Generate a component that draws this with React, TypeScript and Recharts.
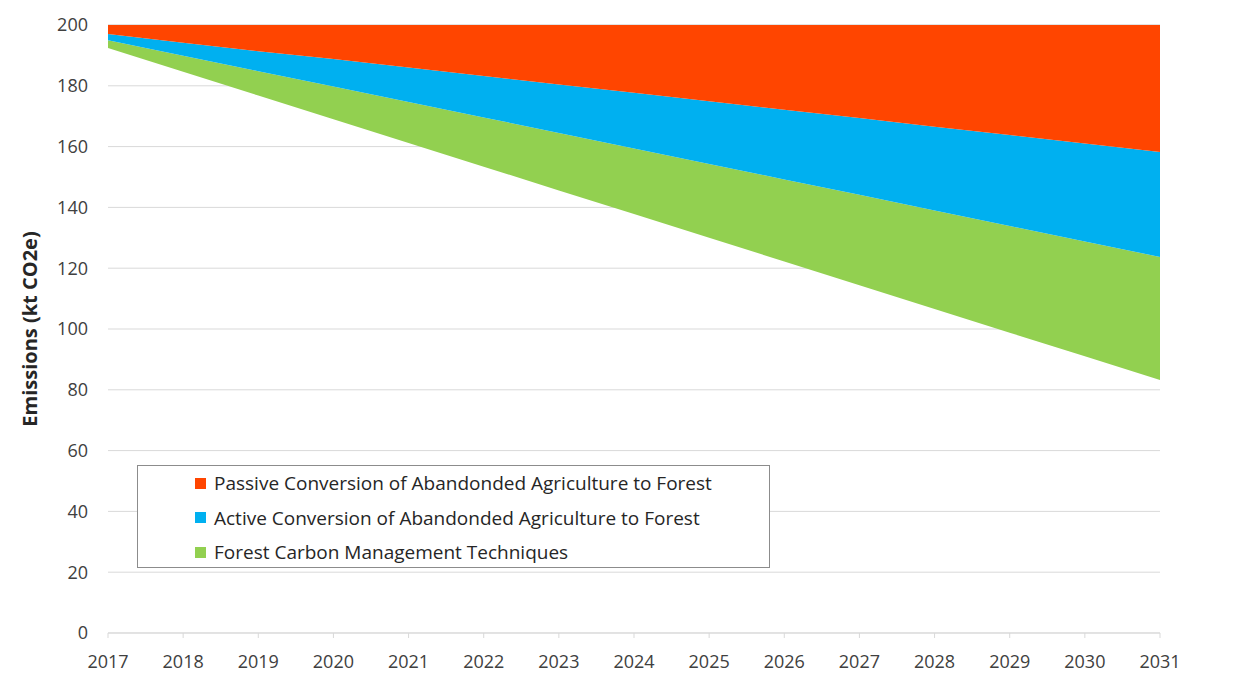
import React from 'react';
import { AreaChart, Area, XAxis, YAxis, CartesianGrid } from 'recharts';

const years = [2017, 2018, 2019, 2020, 2021, 2022, 2023, 2024, 2025, 2026, 2027, 2028, 2029, 2030, 2031];

// invisible floor under the stack (lower edge of the green band)
const baseline = [192.4, 184.6, 176.8, 169.0, 161.2, 153.4, 145.6, 137.8, 130.0, 122.2, 114.4, 106.6, 98.8, 91.0, 83.2];
const forestMgmt = [2.6, 5.3, 8.0, 10.8, 13.5, 16.2, 18.9, 21.6, 24.3, 27.0, 29.8, 32.4, 35.1, 37.8, 40.5];
const activeConv = [2.0, 4.3, 6.6, 9.0, 11.3, 13.6, 15.9, 18.3, 20.6, 22.9, 25.2, 27.5, 29.9, 32.2, 34.5];
const passiveConv = [3.0, 5.8, 8.6, 11.2, 14.0, 16.8, 19.6, 22.3, 25.1, 27.9, 30.6, 33.5, 36.2, 39.0, 41.8];

const yTicks = [0, 20, 40, 60, 80, 100, 120, 140, 160, 180, 200];

const series = [
  { key: 'passive', name: 'Passive Conversion of Abandonded Agriculture to Forest', color: '#FF4500' },
  { key: 'active', name: 'Active Conversion of Abandonded Agriculture to Forest', color: '#00B0F0' },
  { key: 'forest', name: 'Forest Carbon Management Techniques', color: '#92D050' },
];

const data = years.map((year, i) => ({
  year,
  base: baseline[i],
  forest: forestMgmt[i],
  active: activeConv[i],
  passive: passiveConv[i],
}));

const font = '"Open Sans", sans-serif';

function LegendBox() {
  return (
    <div
      style={{
        position: 'absolute',
        left: 129,
        top: 457,
        width: 633,
        height: 103,
        border: '1px solid #8c8c8c',
        background: '#fff',
        boxSizing: 'border-box',
        paddingTop: 0,
        paddingLeft: 57,
        fontFamily: font,
        fontSize: 19,
        color: '#262626',
      }}
    >
      {series.map((s) => (
        <div key={s.key} style={{ display: 'flex', alignItems: 'center', height: 34.5 }}>
          <span style={{ width: 11, height: 11, background: s.color, marginRight: 8, display: 'inline-block' }} />
          <span>{s.name}</span>
        </div>
      ))}
    </div>
  );
}

export default function App() {
  return (
    <div style={{ position: 'relative', width: 1233, height: 671, background: '#fff' }}>
      <AreaChart width={1233} height={671} data={data} margin={{ top: 17, right: 81, bottom: 0, left: 0 }}>
        <CartesianGrid horizontal vertical={false} stroke="#d9d9d9" />
        <XAxis
          dataKey="year"
          height={46}
          axisLine={{ stroke: '#d9d9d9' }}
          tickLine={{ stroke: '#d9d9d9' }}
          tickSize={5}
          tickMargin={17}
          tick={{ fill: '#404040', fontSize: 18, fontFamily: font }}
          interval={0}
        />
        <YAxis
          width={100}
          domain={[0, 200]}
          ticks={yTicks}
          axisLine={false}
          tickLine={false}
          tickSize={0}
          tickMargin={20}
          tick={{ fill: '#404040', fontSize: 18, fontFamily: font }}
          label={{
            value: 'Emissions (kt CO2e)',
            angle: -90,
            position: 'insideLeft',
            offset: 22,
            style: { textAnchor: 'middle', fontWeight: 700, fontSize: 20, fill: '#262626', fontFamily: font },
          }}
        />
        <Area type="linear" dataKey="base" stackId="s" stroke="none" fill="none" legendType="none" isAnimationActive={false} />
        <Area type="linear" dataKey="forest" stackId="s" stroke="none" fill="#92D050" fillOpacity={1} isAnimationActive={false} />
        <Area type="linear" dataKey="active" stackId="s" stroke="none" fill="#00B0F0" fillOpacity={1} isAnimationActive={false} />
        <Area type="linear" dataKey="passive" stackId="s" stroke="none" fill="#FF4500" fillOpacity={1} isAnimationActive={false} />
      </AreaChart>
      <LegendBox />
    </div>
  );
}
